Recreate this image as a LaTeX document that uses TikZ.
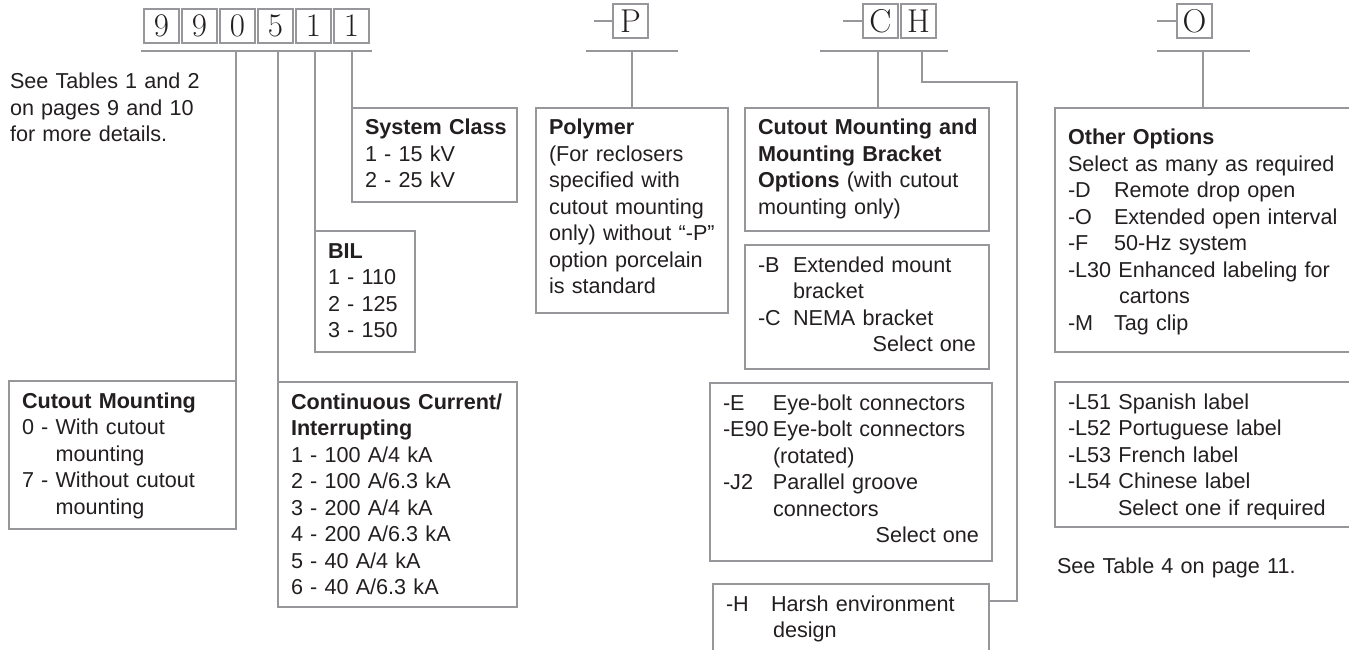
\documentclass[tikz,border=0pt]{standalone}
\usepackage{fontspec}
\newfontfamily\helv{Liberation Sans}
\usetikzlibrary{calc}
\definecolor{linegray}{RGB}{150,150,155}
\definecolor{ink}{RGB}{35,31,32}
\hyphenpenalty=10000
\exhyphenpenalty=10000

\begin{document}
\begin{tikzpicture}[x=1pt,y=-1pt,
every node/.style={text=ink},
opt/.style={draw=linegray, line width=2pt, outer sep=0pt,
  inner xsep=13pt, inner ysep=0pt, anchor=north west, align=left,
  text height=27pt, font=\helv\fontsize{21.6}{26.5}\selectfont},
note/.style={opt, draw=none, inner xsep=0pt},
digit/.style={draw=linegray, line width=1.3pt, outer sep=0pt,
  inner sep=0pt, anchor=north west, minimum width=35pt,
  minimum height=34pt, font=\rmfamily\fontsize{33}{33}\selectfont},
link/.style={draw=linegray, line width=2pt},
hyphen/.style={draw=linegray, line width=1.2pt}]
\useasboundingbox (0,0) rectangle (1349,650);
\clip (0,0) rectangle (1349,650);

% catalog number
\foreach \d [count=\i] in {9,9,0,5,1,1}
  \node[digit] (d\i) at ({144+38*(\i-1)},9) {\d};
\node[digit] (p) at (613,4) {P};
\node[digit] (c) at (863,4) {C};
\node[digit] (h) at (901,4) {H};
\node[digit] (o) at (1177,4) {O};
\draw[hyphen] (p.west) -- ++(-19,0);
\draw[hyphen] (c.west) -- ++(-20,0);
\draw[hyphen] (o.west) -- ++(-20,0);

% bars
\coordinate (dbarL) at (141,51);
\coordinate (dbarR) at (372,51);
\coordinate (pbarL) at (586,51);
\coordinate (pbarR) at (678,51);
\coordinate (chbarL) at (820,51);
\coordinate (chbarR) at (948,51);
\coordinate (obarL) at (1157,51);
\coordinate (obarR) at (1250,51);
\coordinate (ctap) at (878,51);
\coordinate (htap) at (922,51);
\coordinate (hbend) at (1017,82);
\coordinate (otap) at (1203,51);
\draw[link] (dbarL) -- (dbarR);
\draw[link] (pbarL) -- (pbarR);
\draw[link] (chbarL) -- (chbarR);
\draw[link] (obarL) -- (obarR);

\node[note, text width=220pt] (see) at (10,62)
  {See Tables 1 and 2\\on pages 9 and 10\\for more details.};

% option boxes
\node[opt, text width=139pt, text depth=67pt] (sysc) at (352,108)
  {\mbox{\textbf{System Class}}\\1 - 15 kV\\2 - 25 kV};
\node[opt, text width=74pt, text depth=94pt] (bil) at (315,231)
  {\textbf{BIL}\\1 - 110\\2 - 125\\3 - 150};
\node[opt, text width=201pt, text depth=121pt] (cm) at (9,381)
  {\textbf{Cutout Mounting}\\0 - With cutout\\\phantom{0 - }mounting\\7 - Without cutout\\\phantom{7 - }mounting};
\node[opt, text width=213pt, text depth=198pt] (cc) at (278,382)
  {\mbox{\textbf{Continuous Current/}}\\\textbf{Interrupting}\\1 - 100 A/4 kA\\2 - 100 A/6.3 kA\\3 - 200 A/4 kA\\4 - 200 A/6.3 kA\\5 - 40 A/4 kA\\6 - 40 A/6.3 kA};
\node[opt, text width=166pt, text depth=178pt] (poly) at (536,108)
  {\textbf{Polymer}\\(For reclosers\\specified with\\cutout mounting\\\mbox{only) without “-P”}\\option porcelain\\is standard};
\node[opt, text width=218pt, text depth=96pt] (cmb) at (745,108)
  {\mbox{\textbf{Cutout Mounting and}}\\\mbox{\textbf{Mounting Bracket}}\\\mbox{\textbf{Options} (with cutout}\\mounting only)};
\node[opt, text width=218pt, text depth=97pt] (brk) at (745,245)
  {\makebox[35pt][l]{-B}Extended mount\\\hspace*{35pt}bracket\\\makebox[35pt][l]{-C}NEMA bracket\\\hspace*{\fill}Select one};
\node[opt, text width=256pt, text depth=151pt] (conn) at (710,383)
  {\makebox[50pt][l]{-E}Eye-bolt connectors\\\makebox[50pt][l]{-E90}Eye-bolt connectors\\\hspace*{50pt}(rotated)\\\makebox[50pt][l]{-J2}Parallel groove\\\hspace*{50pt}connectors\\\hspace*{\fill}Select one};
\node[opt, text width=250pt, text depth=83pt] (harsh) at (713,584)
  {\makebox[45pt][l]{-H}Harsh environment\\\hspace*{47pt}design};
\node[opt, text width=294pt, text height=37pt, text depth=207pt] (oo) at (1055,108)
  {\textbf{Other Options}\\Select as many as required\\\makebox[46pt][l]{-D}Remote drop open\\\makebox[46pt][l]{-O}Extended open interval\\\makebox[46pt][l]{-F}50-Hz system\\-L30 Enhanced labeling for\\\hspace*{51pt}cartons\\\makebox[46pt][l]{-M}Tag clip};
\node[opt, text width=294pt, text depth=118pt] (lang) at (1055,382)
  {-L51 Spanish label\\-L52 Portuguese label\\-L53 French label\\-L54 Chinese label\\\hspace*{50pt}Select one if required};
\node[note, text width=260pt] (seefour) at (1057,546) {See Table 4 on page 11.};

% connectors
\draw[link] (cm.north east) -- (cm.north east |- dbarL);
\draw[link] (cc.north west) -- (cc.north west |- dbarL);
\draw[link] (bil.north west) -- (bil.north west |- dbarL);
\draw[link] (sysc.north west) -- (sysc.north west |- dbarL);
\draw[link] (poly.north) -- (poly.north |- pbarL);
\draw[link] (ctap) -- (ctap |- cmb.north);
\draw[link] (htap) |- (hbend) |- ([yshift=-17pt]harsh.north east);
\draw[link] (otap) -- (otap |- oo.north);
\end{tikzpicture}
\end{document}
